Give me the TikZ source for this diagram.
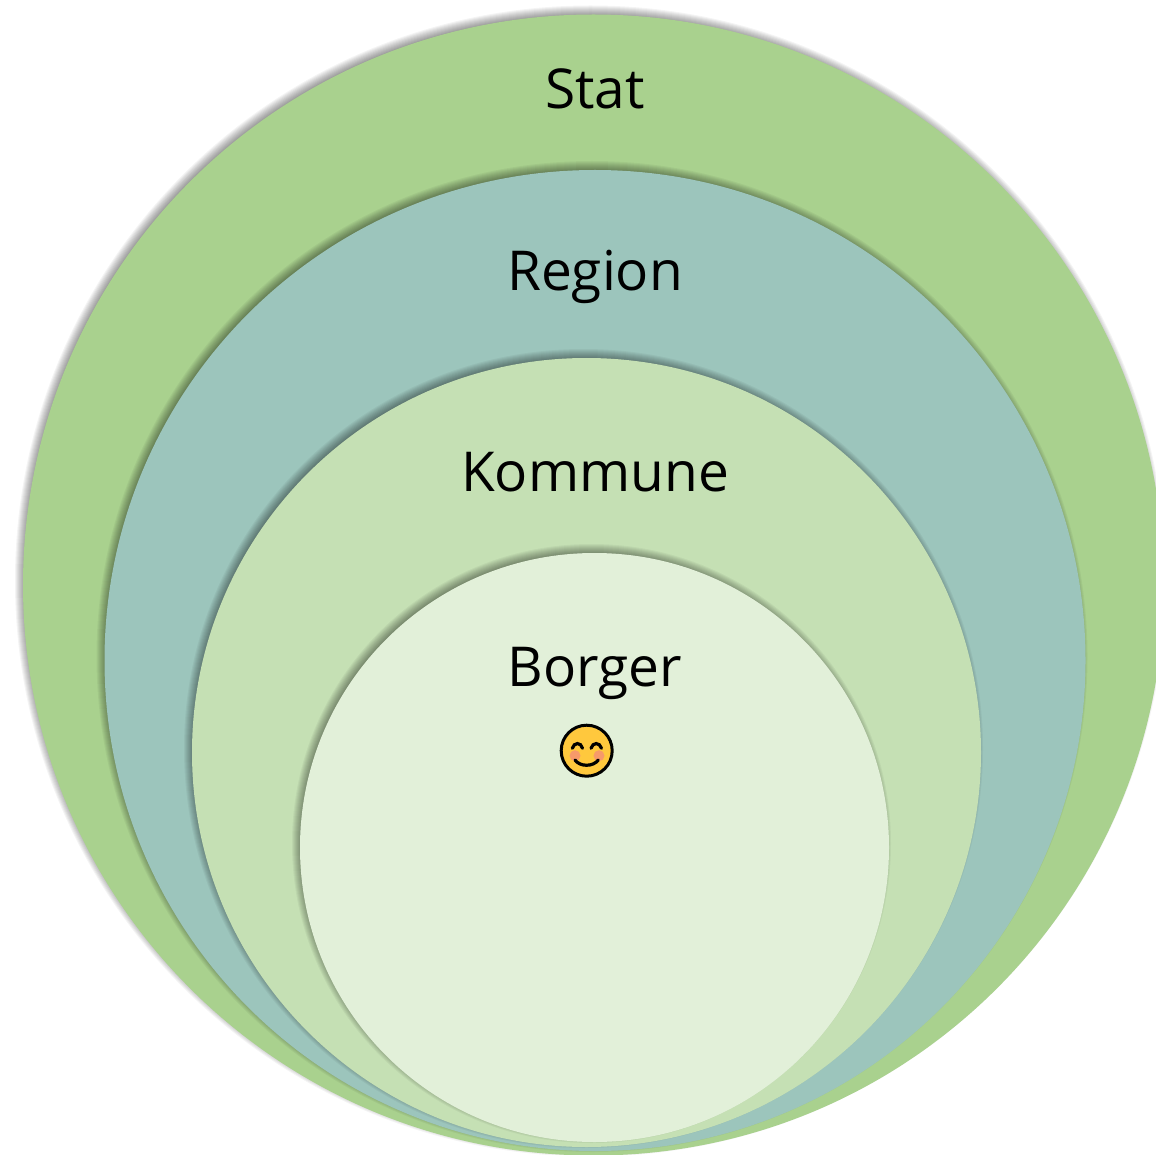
\documentclass[tikz,border=0pt]{standalone}
\usepackage{fontspec}
\setmainfont{Open Sans}
\usepackage{xcolor}
\definecolor{statgreen}{HTML}{A9D18E}
\definecolor{regionteal}{HTML}{9CC5BC}
\definecolor{kommunegreen}{HTML}{C5E0B4}
\definecolor{borgergreen}{HTML}{E2F0D9}
\definecolor{smileyface}{HTML}{FFC83D}
\definecolor{smileycheek}{HTML}{F79A6A}

\begin{document}
\begin{tikzpicture}[x=1pt,y=-1pt]
  \tikzstyle{level}=[circle,inner sep=0pt]
  \tikzstyle{label}=[inner sep=0pt,anchor=base,font=\fontsize{55}{55}\selectfont]
  \tikzstyle{smileyline}=[line width=3.2pt,line cap=round,black]

  \useasboundingbox (0,0) rectangle (1156,1155);
  \fill[white] (0,0) rectangle (1156,1155);

  % circles, each with a soft shadow towards the upper left
  \foreach \name/\cx/\cy/\rad/\col in {stat/593.5/585/570.5/statgreen,
      region/595/660.5/490.5/regionteal,
      kommune/586.5/752.5/394.5/kommunegreen,
      borger/594.5/847.5/294.5/borgergreen} {
    \foreach \i in {-4,-3,...,5}
      \fill[black,opacity=0.045] (\cx-3,\cy-4) circle ({\rad+\i});
    \node[level,fill=\col,minimum size=2*\rad] (\name) at (\cx,\cy) {};
  }

  \node[label] (stat label)    at (595,109) {Stat};
  \node[label] (region label)  at (595,291) {Region};
  \node[label] (kommune label) at (595,491) {Kommune};
  \node[label] (borger label)  at (595,686) {Borger};

  % smiley
  \node[circle,inner sep=0pt,minimum size=51pt,fill=smileyface,draw=black,line width=3pt] (smiley) at (586.7,750.7) {};
  \fill[smileycheek] (575,755.7) circle (5.5);
  \fill[smileycheek] (599,755.7) circle (5.5);
  \draw[smileyline] (572.3,748.3) .. controls (574,742) and (581,742) .. (582.5,748.3);
  \draw[smileyline] (591,748.3) .. controls (592.7,742) and (599.7,742) .. (601.5,748.3);
  \draw[smileyline] (575,760) .. controls (580,767) and (593,767) .. (598.3,760);
\end{tikzpicture}
\end{document}
